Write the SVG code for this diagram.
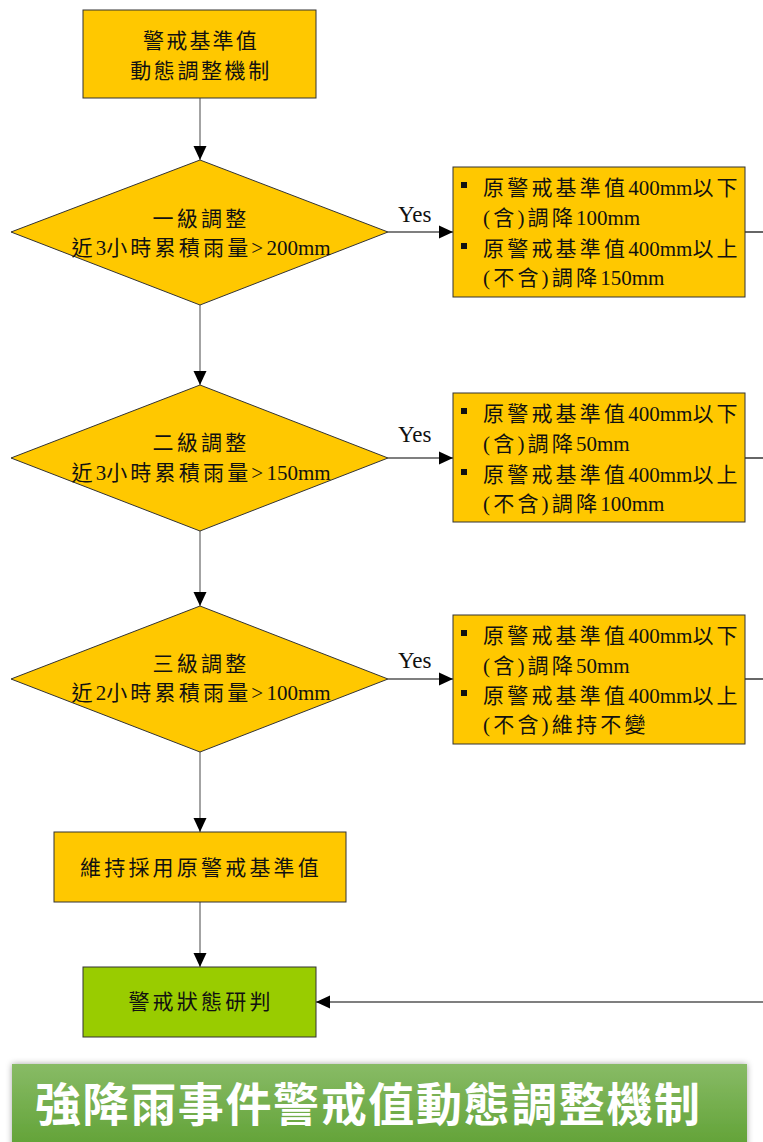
<svg xmlns="http://www.w3.org/2000/svg" width="763" height="1142" viewBox="0 0 763 1142">
<defs>
<style>
.box{fill:#FFC800;stroke:#333;stroke-width:1}
.green{fill:#99CC00;stroke:#333;stroke-width:1}
.t{font-family:"Liberation Serif","Noto Sans CJK TC",serif;font-size:21px;letter-spacing:3.2px;fill:#111}
.l{letter-spacing:0}
.c{text-anchor:middle}
.yes{font-family:"Liberation Serif",serif;font-size:23px;fill:#111}
.v{stroke:#666;stroke-width:1.2;fill:none}
.h{stroke:#000;stroke-width:1.2;fill:none}
.bul{fill:#111}
.banner{font-family:"Noto Sans CJK TC","Noto Sans",sans-serif;font-weight:bold;font-size:46px;fill:#fff}
</style>
<marker id="arr" markerUnits="userSpaceOnUse" markerWidth="14" markerHeight="14" viewBox="0 0 14 14" refX="14" refY="7" orient="auto">
<path d="M0,0.5 L14,7 L0,13.5 Z" fill="#000"/>
</marker>
<linearGradient id="bg" x1="0" y1="0" x2="0" y2="1">
<stop offset="0" stop-color="#88BB66"/>
<stop offset="1" stop-color="#5EA032"/>
</linearGradient>
<filter id="sh" x="-5%" y="-20%" width="110%" height="140%">
<feGaussianBlur in="SourceAlpha" stdDeviation="3"/>
<feOffset dx="0" dy="0" result="b"/>
<feFlood flood-color="#000" flood-opacity="0.35"/>
<feComposite in2="b" operator="in"/>
<feMerge><feMergeNode/><feMergeNode in="SourceGraphic"/></feMerge>
</filter>
</defs>
<rect width="763" height="1142" fill="#fff"/>

<g id="connectors">
<line class="v" x1="200" y1="98" x2="200" y2="160" marker-end="url(#arr)"/>
<line class="v" x1="200" y1="305" x2="200" y2="385" marker-end="url(#arr)"/>
<line class="v" x1="200" y1="531" x2="200" y2="606" marker-end="url(#arr)"/>
<line class="v" x1="200" y1="752" x2="200" y2="832" marker-end="url(#arr)"/>
<line class="v" x1="200" y1="902" x2="200" y2="967" marker-end="url(#arr)"/>
<line class="h" x1="388" y1="232" x2="453" y2="232" marker-end="url(#arr)"/>
<line class="h" x1="388" y1="458" x2="453" y2="458" marker-end="url(#arr)"/>
<line class="h" x1="388" y1="679" x2="453" y2="679" marker-end="url(#arr)"/>
<line class="h" x1="745" y1="232" x2="763" y2="232"/>
<line class="h" x1="745" y1="458" x2="763" y2="458"/>
<line class="h" x1="745" y1="679" x2="763" y2="679"/>
<line class="h" x1="763" y1="1002" x2="316" y2="1002" stroke-width="1.6" marker-end="url(#arr)"/>
<text class="yes" x="398" y="222">Yes</text>
<text class="yes" x="398" y="442">Yes</text>
<text class="yes" x="398" y="668">Yes</text>
</g>

<g id="start">
<rect class="box" x="83" y="10" width="233" height="88"/>
<text class="t c" x="201" y="48" style="letter-spacing:2.2px">警戒基準值</text>
<text class="t c" x="201" y="78" style="letter-spacing:2.6px">動態調整機制</text>
</g>

<g id="level1">
<polygon class="box" points="200,160 388,232 200,305 11,232"/>
<text class="t c" x="201" y="226">一級調整</text>
<text class="t c" x="201" y="255">近<tspan class="l">3</tspan>小時累積雨量&gt;<tspan class="l">200mm</tspan></text>
</g>

<g id="action1">
<rect class="box" x="453" y="167" width="292" height="130"/>
<rect class="bul" x="461" y="182" width="6" height="6"/>
<text class="t" x="483" y="195">原警戒基準值<tspan class="l">400mm</tspan>以下</text>
<text class="t" x="483" y="225">(含)調降<tspan class="l">100mm</tspan></text>
<rect class="bul" x="461" y="243" width="6" height="6"/>
<text class="t" x="483" y="256">原警戒基準值<tspan class="l">400mm</tspan>以上</text>
<text class="t" x="483" y="285">(不含)調降<tspan class="l">150mm</tspan></text>
</g>

<g id="level2">
<polygon class="box" points="200,385 388,458 200,531 11,458"/>
<text class="t c" x="201" y="450">二級調整</text>
<text class="t c" x="201" y="480">近<tspan class="l">3</tspan>小時累積雨量&gt;<tspan class="l">150mm</tspan></text>
</g>

<g id="action2">
<rect class="box" x="453" y="393" width="292" height="129"/>
<rect class="bul" x="461" y="408" width="6" height="6"/>
<text class="t" x="483" y="421">原警戒基準值<tspan class="l">400mm</tspan>以下</text>
<text class="t" x="483" y="451">(含)調降<tspan class="l">50mm</tspan></text>
<rect class="bul" x="461" y="469" width="6" height="6"/>
<text class="t" x="483" y="482">原警戒基準值<tspan class="l">400mm</tspan>以上</text>
<text class="t" x="483" y="511">(不含)調降<tspan class="l">100mm</tspan></text>
</g>

<g id="level3">
<polygon class="box" points="200,606 388,679 200,752 11,679"/>
<text class="t c" x="201" y="671">三級調整</text>
<text class="t c" x="201" y="700">近<tspan class="l">2</tspan>小時累積雨量&gt;<tspan class="l">100mm</tspan></text>
</g>

<g id="action3">
<rect class="box" x="453" y="615" width="292" height="129"/>
<rect class="bul" x="461" y="630" width="6" height="6"/>
<text class="t" x="483" y="643">原警戒基準值<tspan class="l">400mm</tspan>以下</text>
<text class="t" x="483" y="673">(含)調降<tspan class="l">50mm</tspan></text>
<rect class="bul" x="461" y="690" width="6" height="6"/>
<text class="t" x="483" y="703">原警戒基準值<tspan class="l">400mm</tspan>以上</text>
<text class="t" x="483" y="732">(不含)維持不變</text>
</g>

<g id="keep">
<rect class="box" x="54" y="832" width="292" height="70"/>
<text class="t c" x="201" y="875">維持採用原警戒基準值</text>
</g>

<g id="judge">
<rect class="green" x="83" y="967" width="233" height="70"/>
<text class="t c" x="201" y="1009">警戒狀態研判</text>
</g>

<g id="banner">
<rect x="12" y="1064" width="735" height="90" fill="url(#bg)" filter="url(#sh)"/>
<text class="banner" x="35" y="1121" textLength="665" lengthAdjust="spacing">強降雨事件警戒值動態調整機制</text>
</g>
</svg>
